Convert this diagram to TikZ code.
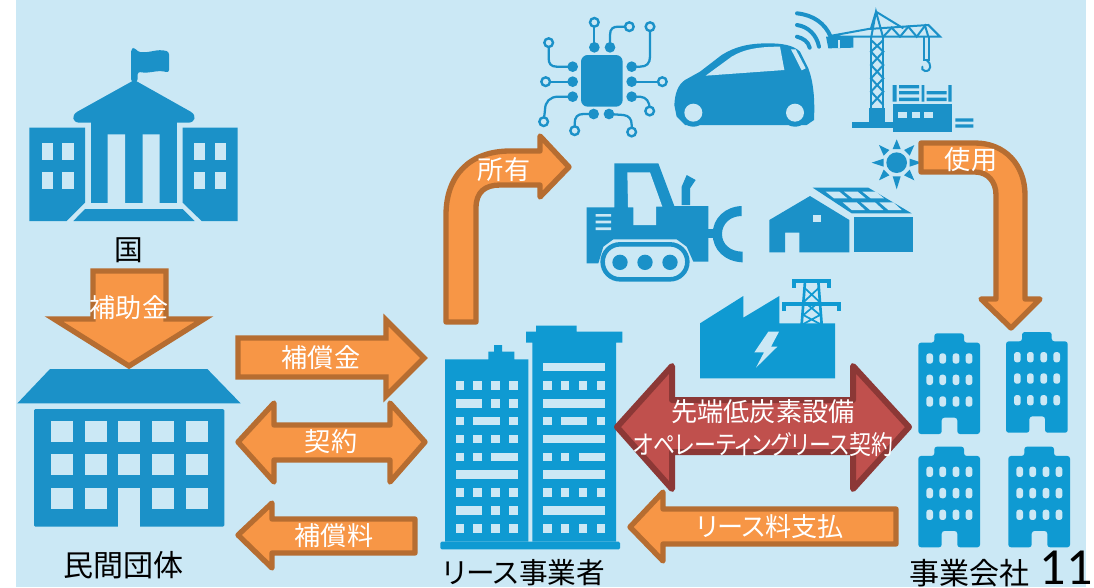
\documentclass[tikz,border=0pt]{standalone}
\usepackage{graphicx}
\usepackage{fontspec}
\setmainfont{Noto Sans CJK JP}[RawFeature=+palt]
\newfontfamily\numfont{Carlito}
\definecolor{bgblue}{HTML}{CBE8F5}
\definecolor{iconA}{HTML}{1B91C8}
\definecolor{iconB}{HTML}{0F9AD2}
\definecolor{arrowfill}{HTML}{F79646}
\definecolor{arrowedge}{HTML}{B66D31}
\definecolor{redfill}{HTML}{C0504D}
\definecolor{rededge}{HTML}{8C3836}
\tikzset{
  blockarrow/.style={draw=arrowedge,fill=arrowfill,line width=4pt,line join=round},
  redarrow/.style={draw=rededge,fill=redfill,line width=4.5pt,line join=round},
  lbl/.style={inner sep=0pt,text=white,font=\fontsize{19.6}{22}\selectfont},
  captxt/.style={inner sep=0pt,text=black,font=\fontsize{22.5}{25}\selectfont},
  hole/.style={fill=bgblue},
  zoomA/.style={x=0.25pt,y=-0.25pt},
  ic/.style={fill=iconA},
  ib/.style={fill=iconB},
  trace/.style={draw=iconA,line width=1.7pt},
  ring/.style={draw=iconA,fill=bgblue,line width=1.8pt},
  crane/.style={draw=iconA,line width=1.5pt},
}
\begin{document}
\begin{tikzpicture}[x=0.75pt,y=-0.75pt]
\useasboundingbox (0,0) rectangle (1094,587);
\fill[white] (0,0) rectangle (1094,587);
\fill[bgblue] (16,0) rectangle (1086,587);

% ---- government
\begin{scope}[shift={(0,0)},zoomA]
\fill[ic,rounded corners=2pt] (393,245) -- (393,148) -- (403,142) -- (413,155) .. controls (450,160) and (470,145) .. (507,155) -- (507,218) .. controls (470,208) and (450,222) .. (413,215) -- (413,245) -- cycle;
\fill[ic] (403,240) -- (572,335) .. controls (592,347) and (585,368) .. (565,368) -- (238,368) .. controls (218,368) and (212,347) .. (232,335) -- cycle;
\fill[ic] (272,360) rectangle (531,610);
\fill[hole] (323,403) rectangle (375,610) (428,403) rectangle (479,610);
\fill[ic] (88,383) -- (255,383) -- (255,608) -- (200,663) -- (88,663) -- cycle;
\fill[ic] (548,383) -- (713,383) -- (713,663) -- (605,663) -- (548,608) -- cycle;
\fill[ic] (255,627) -- (548,627) -- (584,663) -- (220,663) -- cycle;
\foreach \wx in {125,187,582,644} \foreach \wy in {428,515}
  \fill[hole] (\wx,\wy) rectangle (\wx+34,\wy+52);
\end{scope}
\node[captxt,font=\fontsize{21.5}{24}\selectfont] (kuni) at (129,250) {国};

% ---- civil organisation building
\begin{scope}[shift={(0,300)},zoomA]
\fill[ic] (150,207) -- (622,207) -- (722,310) -- (52,310) -- cycle;
\fill[ic,rounded corners=1pt] (102,327) rectangle (673,680);
\foreach \wx in {153,254,355,455,557} \foreach \wy in {362,461}
  \fill[hole] (\wx,\wy) rectangle (\wx+66,\wy+65);
\foreach \wx in {153,254,455,557}
  \fill[hole] (\wx,563) rectangle (\wx+66,628);
\fill[hole] (355,563) rectangle (421,682);
\end{scope}
\node[captxt] (minkan) at (123,565) {民間団体};

% ---- chip
\begin{scope}[shift={(430,0)},zoomA]
\fill[ic,rounded corners=5pt] (453,165) rectangle (578,320);
\foreach \py in {200,245,290} {\fill[ic] (428,\py) circle (16); \fill[ic] (605,\py) circle (16);}
\fill[ic] (493,142) circle (16) (540,142) circle (16) (491,342) circle (16) (537,342) circle (16);
\draw[trace] (493,142) -- (493,80);
\draw[trace] (540,142) -- (540,105) .. controls (540,85) and (550,80) .. (565,80) -- (590,80);
\draw[trace] (605,200) -- (630,200) .. controls (650,200) and (660,190) .. (660,170) -- (660,90);
\draw[trace] (428,200) -- (380,200) .. controls (362,200) and (356,190) .. (356,175) -- (356,138);
\draw[trace] (428,245) -- (355,245);
\draw[trace] (428,290) -- (385,290) .. controls (360,290) and (345,305) .. (345,330) -- (342,355);
\draw[trace] (605,245) -- (690,245);
\draw[trace] (605,290) -- (630,290) .. controls (650,292) and (658,305) .. (659,325);
\draw[trace] (491,342) -- (460,342) .. controls (442,342) and (434,352) .. (434,370) -- (434,385);
\draw[trace] (537,342) -- (580,345) .. controls (598,347) and (605,358) .. (605,375) -- (605,388);
\foreach \rx/\ry in {493/67,598/80,660/80,356/128,347/245,341/365,697/245,659/333,434/392,605/396}
  \draw[ring] (\rx,\ry) circle (13);
\end{scope}

% ---- car, signal and crane
\begin{scope}[shift={(665,5)},zoomA]
\fill[ic] (28,300) .. controls (30,265) and (38,240) .. (60,225) -- (105,200) -- (170,150) .. controls (210,125) and (250,115) .. (310,115) .. controls (350,115) and (385,120) .. (405,140) -- (430,190) .. controls (445,230) and (450,280) .. (447,345) -- (425,360) -- (60,360) -- (35,335) -- cycle;
\fill[ic] (85,323) circle (42) (390,323) circle (42);
\fill[hole] (85,323) circle (27) (390,323) circle (27);
\fill[hole] (122,212) -- (200,155) .. controls (240,130) and (290,125) .. (345,125) -- (358,195) -- cycle;
\fill[hole] (378,133) -- (392,133) -- (422,190) -- (410,196) -- cycle;
\begin{scope}[line width=3pt,line cap=round]
\draw[iconA] (396,25) .. controls (445,30) and (480,55) .. (497,95);
\draw[iconA] (396,60) .. controls (430,65) and (455,90) .. (462,125);
\draw[iconA] (396,95) .. controls (415,100) and (430,110) .. (434,128);
\end{scope}
\fill[ic] (483,95) -- (565,95) -- (565,128) -- (490,130) -- cycle;
\fill[hole] (520,105) rectangle (524,130);
\fill[ic] (560,352) rectangle (700,368);
\fill[ic] (612,310) rectangle (660,362);
\draw[crane] (618,100) -- (618,310) (655,100) -- (655,310);
\draw[crane] (618,105) -- (655,140) -- (618,180) -- (655,220) -- (618,260) -- (655,300);
\draw[crane] (655,105) -- (618,140) -- (655,180) -- (618,220) -- (655,260) -- (618,300);
\draw[crane] (618,100) -- (633,20) -- (655,100) (633,20) -- (715,70) (633,20) -- (618,70);
\draw[crane] (500,95) -- (825,95) -- (790,60) -- (610,72) -- (500,92);
\draw[crane] (655,95) -- (680,68) -- (705,95) -- (730,65) -- (755,95) -- (780,62) -- (790,95);
\draw[crane] (778,95) -- (778,165) -- (793,165) -- (793,95);
\draw[crane,line cap=round] (785,165) .. controls (800,175) and (800,200) .. (780,198) .. controls (772,197) and (770,190) .. (772,185);
\fill[ic] (683,298) rectangle (860,380);
\foreach \wx in {700,740,778} \fill[hole] (\wx,320) rectangle (\wx+25,338);
\fill[ic] (683,240) rectangle (695,290) (770,240) rectangle (778,290) (850,240) rectangle (860,290);
\fill[ic] (702,240) rectangle (762,250) (702,258) rectangle (762,268) (702,278) rectangle (762,288);
\fill[ic] (785,258) rectangle (845,268) (785,278) rectangle (845,288);
\fill[ic] (871,340) rectangle (925,350) (871,358) rectangle (925,368);
\end{scope}

% ---- bulldozer
\begin{scope}[shift={(430,0)},zoomA]
\fill[ic] (553,490) -- (685,490) -- (733,618) -- (835,618) -- (835,785) -- (790,785) -- (770,740) -- (740,718) -- (550,718) -- (520,740) -- (505,790) -- (470,790) -- (470,622) -- (553,622) -- cycle;
\fill[hole] (592,517) -- (660,517) -- (697,620) -- (678,620) -- (678,675) -- (610,675) -- (610,622) -- (594,622) -- cycle;
\fill[hole] (497,642) rectangle (543,650) (497,662) rectangle (543,670) (497,682) rectangle (543,690);
\fill[ic] (755,615) -- (755,560) -- (770,525) -- (797,540) -- (780,565) -- (780,615) -- cycle;
\draw[draw=iconA,line width=3.4pt,rounded corners=13pt,fill=bgblue] (518,733) rectangle (772,838);
\fill[ic] (570,787) circle (23) (645,787) circle (23) (720,787) circle (23);
\fill[ic] (835,688) rectangle (870,715);
\fill[ic] (935,618) .. controls (885,620) and (848,655) .. (848,702) .. controls (848,750) and (885,785) .. (938,787) -- (938,755) .. controls (900,755) and (876,732) .. (876,702) .. controls (876,672) and (900,648) .. (935,648) -- cycle;
\end{scope}

% ---- solar house
\begin{scope}[shift={(760,0)},zoomA]
\fill[ic] (28,660) -- (150,588) -- (268,660) -- (268,757) -- (118,757) -- (118,698) -- (75,698) -- (75,757) -- (28,757) -- cycle;
\fill[ic] (282,650) rectangle (458,757);
\fill[ic] (158,563) -- (325,563) -- (455,640) -- (275,640) -- cycle;
\fill[hole] (160,645) rectangle (183,667);
\foreach \dd in {0,55,110} {
  \fill[hole] (197+\dd,575) -- (238+\dd,575) -- (262+\dd,595) -- (222+\dd,595) -- cycle;
  \fill[hole] (248+\dd,607) -- (290+\dd,607) -- (315+\dd,630) -- (275+\dd,630) -- cycle;
}
\fill[ic] (410,488) circle (31);
\foreach \ra/\rb/\rc/\rd/\re/\rf in {
  410/418/422/447/398/447, 410/568/398/529/422/529,
  335/488/371/476/371/500, 485/488/449/476/449/500,
  357/435/388/450/371/467, 463/435/449/467/432/450,
  357/541/371/509/388/526, 463/541/432/526/449/509}
  \fill[ic] (\ra,\rb) -- (\rc,\rd) -- (\re,\rf) -- cycle;
\end{scope}

% ---- factory and pylon
\begin{scope}[shift={(690,265)},zoomA]
\fill[ib] (30,175) -- (160,93) -- (160,158) -- (268,93) -- (268,175) -- (435,175) -- (435,340) -- (30,340) -- cycle;
\fill[hole] (235,200) -- (267,200) -- (243,245) -- (262,245) -- (198,308) -- (222,262) -- (193,262) -- cycle;
\draw[draw=iconB,line width=2pt] (345,50) -- (335,178) (385,50) -- (395,178);
\draw[draw=iconB,line width=1.3pt] (345,70) -- (388,110) -- (340,150) -- (392,178) (385,70) -- (342,110) -- (390,150) -- (338,178);
\draw[draw=iconB,line width=3.2pt] (312,68) -- (312,48) -- (418,48) -- (418,68);
\draw[draw=iconB,line width=3.2pt] (283,138) -- (283,118) -- (447,118) -- (447,138);
\end{scope}

% ---- lease company towers
\begin{scope}[shift={(430,270)},zoomA]
\fill[ib] (45,268) -- (175,268) -- (175,245) -- (192,245) -- (192,225) -- (216,225) -- (216,245) -- (253,245) -- (253,268) -- (295,268) -- (295,815) -- (45,815) -- cycle;
\fill[ib] (307,218) -- (288,218) -- (288,185) -- (318,185) -- (318,167) -- (440,167) -- (440,185) -- (577,185) -- (577,218) -- (558,218) -- (558,815) -- (307,815) -- cycle;
\fill[ib,rounded corners=1pt] (31,815) rectangle (570,838);
\foreach \aa/\bb/\yy in {
  77/103/333,130/156/333,183/209/333,238/264/333,
  77/156/387,183/209/387,238/264/387,
  77/103/440,130/209/440,238/264/440,
  77/103/494,130/156/494,183/209/494,238/264/494,
  77/103/548,130/156/548,183/264/548,
  77/264/600,
  77/103/655,130/156/655,183/209/655,238/264/655,
  77/156/709,183/209/709,238/264/709,
  77/103/763,130/156/763,183/209/763,238/264/763,
  340/526/278,
  340/365/333,393/418/333,446/471/333,500/526/333,
  340/526/387,
  340/365/440,393/471/440,500/526/440,
  340/526/494,
  340/365/548,393/418/548,446/526/548,
  340/526/600,
  340/365/655,393/418/655,446/471/655,500/526/655,
  340/526/709,
  340/365/763,393/418/763,446/471/763,500/526/763}
  \fill[hole] (\aa,\yy) rectangle (\bb,\yy+26);
\end{scope}
\node[captxt,font=\fontsize{21.5}{24}\selectfont] (lease) at (524,573) {リース事業者};

% ---- operating companies
\foreach \ox/\oy in {760/320,847.7/318.7,760/433.3,850/433.3}
{\begin{scope}[shift={(\ox,\oy)},zoomA]
\fill[ib,rounded corners=2pt] (475,68) -- (523,68) -- (523,40) -- (612,40) -- (612,68) -- (660,68) -- (660,342) -- (592,342) -- (592,293) -- (545,293) -- (545,342) -- (475,342) -- cycle;
\foreach \wx in {499,538,578,617} \foreach \wy in {100,164,229}
  \fill[hole,rounded corners=2pt] (\wx,\wy) rectangle (\wx+20,\wy+31);
\end{scope}}
\node[captxt] (jigyo) at (969,573) {事業会社};
\node[inner sep=0pt,font=\numfont\fontsize{39}{42}\selectfont] (pageno) at (1066,568) {11};

% ---- block arrows
\draw[blockarrow,line join=miter] (93,271) -- (166,271) -- (166,319) -- (204,319) -- (129,366) -- (54,319) -- (93,319) -- cycle;
\node[lbl] (hojokin) at (129,308) {補助金};

\draw[blockarrow,line join=miter] (238,338) -- (386,338) -- (386,320) -- (424,358) -- (386,396) -- (386,377) -- (238,377) -- cycle;
\node[lbl] (hoshokin) at (321,358) {補償金};

\draw[blockarrow] (238,442) -- (274,403) -- (274,425) -- (390,425) -- (390,403) -- (425,442) -- (390,482) -- (390,460) -- (274,460) -- (274,482) -- cycle;
\node[lbl] (keiyaku) at (331,442) {契約};

\draw[blockarrow] (238,535) -- (272,503) -- (272,519) -- (415,519) -- (415,553) -- (272,553) -- (272,568) -- cycle;
\node[lbl] (hoshoryo) at (334,536) {補償料};

\draw[blockarrow] (446,322) -- (446,215) .. controls (446,175) and (470,151) .. (510,151) -- (540,151) -- (540,136) -- (569,167) -- (540,197) -- (540,185) -- (500,185) .. controls (485,185) and (476,192) .. (476,208) -- (476,322) -- cycle;
\node[lbl] (shoyu) at (504,170) {所有};

\draw[blockarrow] (921,143) -- (975,143) .. controls (1005,143) and (1025,165) .. (1025,195) -- (1025,299) -- (1040,299) -- (1011,328) -- (981,299) -- (996,299) -- (996,195) .. controls (996,182) and (988,172) .. (975,172) -- (921,172) -- cycle;
\node[lbl] (shiyo) at (971,160) {使用};

\draw[redarrow] (617,427) -- (672,366) -- (672,400) -- (853,400) -- (853,366) -- (909,427) -- (853,489) -- (853,452) -- (672,452) -- (672,489) -- cycle;
\node[lbl] (sentan) at (763,412) {先端低炭素設備};
\node[lbl] (opelease) at (763,445) {\scalebox{0.84}[1]{オペレーティングリース契約}};

\draw[blockarrow] (630,527) -- (663,492) -- (663,509) -- (896,509) -- (896,544) -- (663,544) -- (663,561) -- cycle;
\node[lbl] (leaseryo) at (770,527) {リース料支払};
\end{tikzpicture}
\end{document}
